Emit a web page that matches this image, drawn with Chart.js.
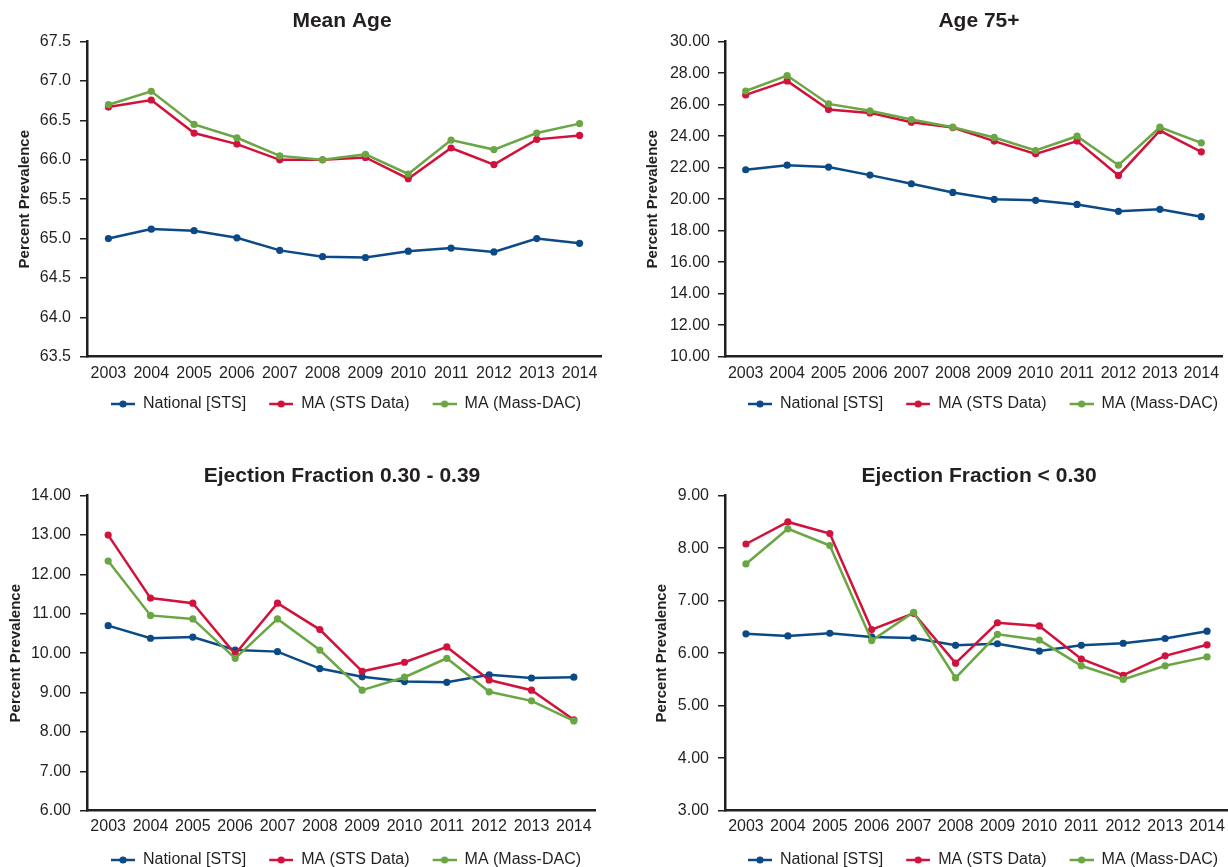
<!DOCTYPE html>
<html>
<head>
<meta charset="utf-8">
<title>Prevalence trends 2003–2014</title>
<script src="https://cdn.jsdelivr.net/npm/chart.js@4/dist/chart.umd.min.js"></script>
<style>
  html, body { margin: 0; padding: 0; background: #ffffff; width: 1228px; height: 867px; overflow: hidden; position: relative; }
  canvas { position: absolute; }
</style>
</head>
<body>
<canvas id="meanAge"></canvas>
<canvas id="age75"></canvas>
<canvas id="ef3039"></canvas>
<canvas id="efUnder30"></canvas>
<script>
// ---- data ----
const years = ['2003', '2004', '2005', '2006', '2007', '2008', '2009', '2010', '2011', '2012', '2013', '2014'];
const seriesNames = ['National [STS]', 'MA (STS Data)', 'MA (Mass-DAC)'];

const meanAgeNational = [65.00, 65.12, 65.10, 65.01, 64.85, 64.77, 64.76, 64.84, 64.88, 64.83, 65.00, 64.94];
const meanAgeMaSts    = [66.67, 66.76, 66.34, 66.20, 66.00, 66.00, 66.03, 65.76, 66.15, 65.94, 66.26, 66.31];
const meanAgeMassDac  = [66.70, 66.87, 66.45, 66.28, 66.05, 66.00, 66.07, 65.82, 66.25, 66.13, 66.34, 66.46];

const age75National = [21.87, 22.16, 22.04, 21.53, 20.98, 20.43, 19.99, 19.93, 19.67, 19.23, 19.36, 18.89];
const age75MaSts    = [26.62, 27.51, 25.69, 25.48, 24.89, 24.55, 23.69, 22.88, 23.69, 21.51, 24.36, 23.01];
const age75MassDac  = [26.87, 27.85, 26.05, 25.61, 25.06, 24.57, 23.92, 23.09, 24.00, 22.16, 24.57, 23.58];

const ef3039National = [10.70, 10.38, 10.41, 10.08, 10.04, 9.61, 9.40, 9.28, 9.26, 9.45, 9.37, 9.39];
const ef3039MaSts    = [13.00, 11.40, 11.27, 9.98, 11.27, 10.60, 9.54, 9.77, 10.16, 9.32, 9.06, 8.31];
const ef3039MassDac  = [12.34, 10.96, 10.87, 9.87, 10.87, 10.08, 9.06, 9.39, 9.87, 9.02, 8.79, 8.28];

const efUnder30National = [6.37, 6.33, 6.38, 6.31, 6.29, 6.15, 6.18, 6.04, 6.15, 6.19, 6.28, 6.42];
const efUnder30MaSts    = [8.08, 8.50, 8.28, 6.45, 6.76, 5.81, 6.58, 6.52, 5.89, 5.58, 5.95, 6.16];
const efUnder30MassDac  = [7.70, 8.37, 8.05, 6.24, 6.78, 5.53, 6.36, 6.25, 5.76, 5.50, 5.76, 5.93];

// y-axis ranges: [min, max, step, decimals]
const meanAgeAxis   = [63.5, 67.5, 0.5, 1];
const age75Axis     = [10, 30, 2, 2];
const ef3039Axis    = [6, 14, 1, 2];
const efUnder30Axis = [3, 9, 1, 2];

// ---- styling ----
const INK = '#231f20';
const FONT = "'Liberation Sans', Arial, Helvetica, sans-serif";
const COLORS = ['#0b4a86', '#d1123c', '#6aa643'];
Chart.defaults.font.family = FONT;
Chart.defaults.color = INK;

// legend marker: short line with a dot; the blank strip on its left
// widens the gap between neighbouring legend entries
const SWATCH_GAP = 8;
function swatch(color) {
  const c = document.createElement('canvas');
  c.width = 24 + SWATCH_GAP; c.height = 10;
  const g = c.getContext('2d');
  g.strokeStyle = color; g.lineWidth = 2.5;
  g.beginPath(); g.moveTo(SWATCH_GAP, 5); g.lineTo(SWATCH_GAP + 24, 5); g.stroke();
  g.fillStyle = color;
  g.beginPath(); g.arc(SWATCH_GAP + 12, 5, 3.6, 0, Math.PI * 2); g.fill();
  return c;
}
const swatches = COLORS.map(swatch);

function panel(id, p) {
  const el = document.getElementById(id);
  el.width = p.w; el.height = p.h;
  el.style.left = p.x + 'px'; el.style.top = p.y + 'px';
  el.style.width = p.w + 'px'; el.style.height = p.h + 'px';
  const [yMin, yMax, yStep, dec] = p.axis;
  const datasets = p.series.map((vals, i) => ({
    label: seriesNames[i],
    data: vals,
    borderColor: COLORS[i],
    backgroundColor: COLORS[i],
    pointBackgroundColor: COLORS[i],
    pointBorderWidth: 0,
    pointRadius: 3.6,
    borderWidth: 2.5,
    tension: 0,
    fill: false,
    order: 3 - i
  }));
  return new Chart(el, {
    type: 'line',
    data: { labels: years, datasets },
    options: {
      responsive: false,
      animation: false,
      devicePixelRatio: 1,
      layout: { padding: 0 },
      plugins: {
        tooltip: { enabled: false },
        title: {
          display: true, text: p.title, color: INK,
          font: { size: 21, weight: 'bold' },
          padding: p.titlePad
        },
        legend: {
          position: 'bottom',
          labels: {
            color: INK, font: { size: 16 }, padding: 15,
            usePointStyle: true, pointStyleWidth: 24 + SWATCH_GAP,
            generateLabels: (chart) => chart.data.datasets.map((ds, i) => ({
              text: ds.label, pointStyle: swatches[i], fillStyle: ds.borderColor,
              strokeStyle: ds.borderColor, lineWidth: 0, hidden: false,
              datasetIndex: i, fontColor: INK
            }))
          }
        }
      },
      scales: {
        x: {
          type: 'category', offset: true,
          grid: { display: false, drawTicks: false },
          border: { display: true, color: INK, width: 2.5 },
          ticks: { color: INK, font: { size: 16 }, padding: p.xTickPad, maxRotation: 0, autoSkip: false },
          afterFit: (s) => { s.height = p.xH; }
        },
        y: {
          min: yMin, max: yMax,
          ticks: { stepSize: yStep, color: INK, font: { size: 16 }, padding: p.yTickPad,
                   callback: (v) => Number(v).toFixed(dec) },
          grid: { display: true, drawOnChartArea: false, drawTicks: true, tickLength: 7, color: INK, lineWidth: 1.5 },
          border: { display: true, color: INK, width: 2.5 },
          title: { display: true, text: 'Percent Prevalence', color: INK,
                   font: { size: 15, weight: 'bold' }, padding: { top: p.yTitlePad, bottom: 0 } },
          afterFit: (s) => { s.width = p.yW; }
        },
        // empty right-hand margin so title and legend centre over the full canvas
        margin: {
          position: 'right', display: true, min: 0, max: 1,
          ticks: { display: false }, grid: { display: false }, border: { display: false },
          afterFit: (s) => { s.width = p.rW; }
        }
      }
    }
  });
}

panel('meanAge', {
  x: -2, y: 0, w: 688, h: 422, yW: 89, rW: 85,
  titlePad: { top: 9, bottom: 7.5 }, xH: 24.3, xTickPad: 7, yTitlePad: 18, yTickPad: 9,
  title: 'Mean Age', axis: meanAgeAxis,
  series: [meanAgeNational, meanAgeMaSts, meanAgeMassDac]
});
panel('age75', {
  x: 612, y: 0, w: 734, h: 422, yW: 113, rW: 124,
  titlePad: { top: 9, bottom: 7.5 }, xH: 24.3, xTickPad: 7, yTitlePad: 32, yTickPad: 8,
  title: 'Age 75+', axis: age75Axis,
  series: [age75National, age75MaSts, age75MassDac]
});
panel('ef3039', {
  x: -2, y: 450, w: 688, h: 428, yW: 89, rW: 91,
  titlePad: { top: 14, bottom: 6.5 }, xH: 26.3, xTickPad: 6, yTitlePad: 9, yTickPad: 9,
  title: 'Ejection Fraction 0.30 - 0.39', axis: ef3039Axis,
  series: [ef3039National, ef3039MaSts, ef3039MassDac]
});
panel('efUnder30', {
  x: 612, y: 450, w: 734, h: 428, yW: 113, rW: 118,
  titlePad: { top: 14, bottom: 6.5 }, xH: 26.3, xTickPad: 6, yTitlePad: 41, yTickPad: 9,
  title: 'Ejection Fraction < 0.30', axis: efUnder30Axis,
  series: [efUnder30National, efUnder30MaSts, efUnder30MassDac]
});
</script>
</body>
</html>
